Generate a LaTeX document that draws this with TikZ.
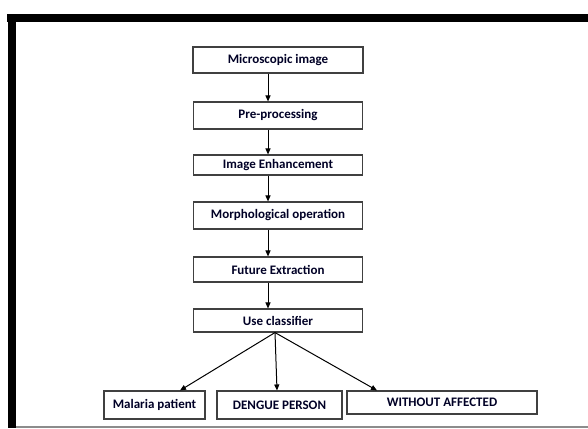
\documentclass[tikz,border=0pt]{standalone}
\usepackage{fontspec}
\setmainfont{Carlito}
\usetikzlibrary{arrows.meta}
\begin{document}
\begin{tikzpicture}[x=1pt,y=-1pt,
  box/.style={draw=black!75,line width=1.1pt,fill=white,inner sep=0pt,
    font=\bfseries\fontsize{13}{15}\selectfont,text=black!85!blue},
  arr/.style={line width=1pt,-{Triangle[length=6pt,width=5pt]}}]
\useasboundingbox (0,0) rectangle (588,428);
\fill[white] (0,0) rectangle (588,428);
% frame
\fill[black] (7,14) rectangle (588,22);
\fill[black] (8,14) rectangle (16,428);
\fill[black!45] (16,425.5) rectangle (588,427.5);
% boxes
\node[box,minimum width=170,minimum height=26] (b1) at (278,60) {Microscopic image};
\node[box,minimum width=169,minimum height=27] (b2) at (278,115.5) {Pre-processing};
\node[box,minimum width=169,minimum height=20] (b3) at (278,165) {Image Enhancement};
\node[box,minimum width=169,minimum height=27] (b4) at (278,215.5) {Morphological operation};
\node[box,minimum width=169,minimum height=25] (b5) at (278,269.5) {Future Extraction};
\node[box,minimum width=169,minimum height=23] (b6) at (278,320.5) {Use classifier};
\node[box,minimum width=101,minimum height=28] (m) at (154.5,405) {Malaria patient};
\node[box,minimum width=125,minimum height=28] (d) at (279.5,405) {DENGUE PERSON};
\node[box,minimum width=190,minimum height=23] (w) at (442,402.5) {WITHOUT AFFECTED};
% arrows
\draw[arr] ([xshift=-10pt]b1.south) -- ([xshift=-10pt]b2.north);
\draw[arr] ([xshift=-10pt]b2.south) -- ([xshift=-10pt]b3.north);
\draw[arr] ([xshift=-10pt]b3.south) -- ([xshift=-10pt]b4.north);
\draw[arr] ([xshift=-10pt]b4.south) -- ([xshift=-10pt]b5.north);
\draw[arr] ([xshift=-10pt]b5.south) -- ([xshift=-10pt]b6.north);
\draw[arr] ([xshift=-3pt]b6.south) -- ([xshift=25.5pt]m.north);
\draw[arr] ([xshift=-3pt]b6.south) -- ([xshift=-2.5pt]d.north);
\draw[arr] ([xshift=-3pt]b6.south) -- ([xshift=-65pt]w.north);
\end{tikzpicture}
\end{document}
